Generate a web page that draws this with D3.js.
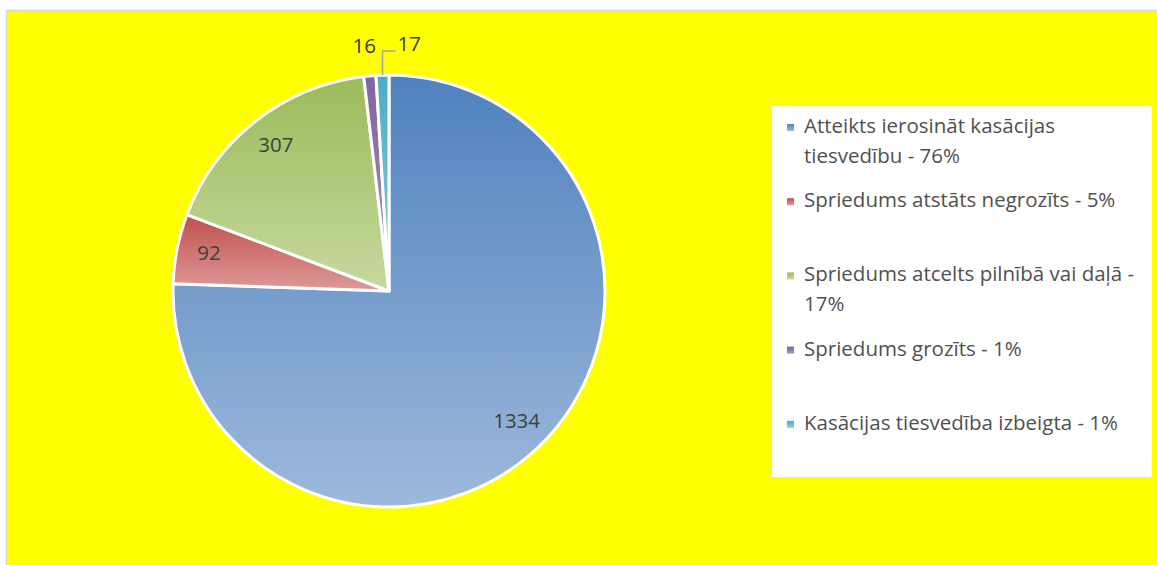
<html>
<head>
<meta charset="utf-8">
<script src="https://cdn.jsdelivr.net/npm/d3@7"></script>
<style>
  body { margin: 0; background: #fff; }
  text { font-family: "Open Sans", Lato, sans-serif; }
</style>
</head>
<body>
<div id="chart"></div>
<script>
// data
const categories = [
  "Atteikts ierosināt kasācijas tiesvedību",
  "Spriedums atstāts negrozīts",
  "Spriedums atcelts pilnībā vai daļā",
  "Spriedums grozīts",
  "Kasācijas tiesvedība izbeigta"
];
const values = [1334, 92, 307, 16, 17];
const colorsDark = ["#4F81BD", "#C0504D", "#9BBB59", "#8064A2", "#4BACC6"];
const colorsLight = ["#9DB9DC", "#DD9A98", "#C6D99F", "#A993C4", "#8CCDDD"];

const W = 1157, H = 565;
const cx = 389, cy = 291, R = 216;

const svg = d3.select("#chart").append("svg")
  .attr("width", W).attr("height", H);

// chart area
svg.append("rect")
  .attr("x", 6.5).attr("y", 10.5)
  .attr("width", W).attr("height", H)
  .attr("fill", "#FFFF00")
  .attr("stroke", "#D9D9D9").attr("stroke-width", 1.5);

// gradients per slice
const defs = svg.append("defs");
colorsDark.forEach((c, i) => {
  const g = defs.append("linearGradient")
    .attr("id", "grad" + i)
    .attr("x1", 0).attr("y1", 0).attr("x2", 0).attr("y2", 1);
  g.append("stop").attr("offset", "0%").attr("stop-color", c);
  g.append("stop").attr("offset", "100%").attr("stop-color", colorsLight[i]);
});

const total = d3.sum(values);
const pie = d3.pie().sort(null).value(d => d);
const arcs = pie(values);
const arc = d3.arc().innerRadius(0).outerRadius(R);

const pieG = svg.append("g").attr("transform", `translate(${cx},${cy})`);

pieG.selectAll("path.slice")
  .data(arcs)
  .enter()
  .append("path")
  .attr("class", "slice")
  .attr("d", arc)
  .attr("fill", (d, i) => `url(#grad${i})`)
  .attr("stroke", "#fff")
  .attr("stroke-width", 3)
  .attr("stroke-linejoin", "round");

// data labels
const inside = d3.arc().innerRadius(R * 0.85).outerRadius(R * 0.85);
const outside = d3.arc().innerRadius(R + 28).outerRadius(R + 28);
const labelSize = 20.5;

arcs.forEach((d, i) => {
  const small = d.value / total < 0.03;
  let pos;
  if (!small) {
    pos = inside.centroid(d);
  } else if (i === 3) {
    pos = outside.centroid(d);
  } else {
    // leader line label
    const mid = (d.startAngle + d.endAngle) / 2;
    const x0 = R * Math.sin(mid), y0 = -R * Math.cos(mid);
    const yTop = y0 - 24;
    pieG.append("polyline")
      .attr("points", `${x0},${y0} ${x0},${yTop} ${x0 + 13},${yTop}`)
      .attr("fill", "none").attr("stroke", "#A6A6A6").attr("stroke-width", 1.5);
    pieG.append("text")
      .attr("x", x0 + 15).attr("y", yTop - 6)
      .attr("dominant-baseline", "middle")
      .attr("font-size", labelSize).attr("fill", "#404040")
      .text(d.value);
    return;
  }
  pieG.append("text")
    .attr("x", pos[0] - (i === 3 ? 3 : 0)).attr("y", pos[1])
    .attr("text-anchor", "middle")
    .attr("dominant-baseline", "middle")
    .attr("font-size", labelSize).attr("fill", "#404040")
    .text(d.value);
});

// legend
const lx = 772, ly = 106, lw = 380, lh = 371;
svg.append("rect")
  .attr("x", lx).attr("y", ly).attr("width", lw).attr("height", lh)
  .attr("fill", "#fff");

const slot = d3.scaleBand().domain(d3.range(values.length)).range([ly, ly + lh]);
const maxW = 345;

categories.forEach((name, i) => {
  const pct = Math.round(values[i] / total * 100);
  const label = `${name} - ${pct}%`;
  const y0 = slot(i) + 22;
  svg.append("rect")
    .attr("x", 787).attr("y", y0 - 4).attr("width", 7).attr("height", 7)
    .attr("fill", `url(#grad${i})`);
  const t = svg.append("text")
    .attr("x", 804).attr("y", y0)
    .attr("dominant-baseline", "middle")
    .attr("font-size", 20.5).attr("fill", "#505050");
  // wrap words
  const words = label.split(" ");
  let line = [];
  let ts = t.append("tspan").attr("x", 804).attr("dy", 0);
  words.forEach(w => {
    line.push(w);
    ts.text(line.join(" "));
    if (ts.node().getComputedTextLength() > maxW && line.length > 1) {
      line.pop();
      ts.text(line.join(" "));
      line = [w];
      ts = t.append("tspan").attr("x", 804).attr("dy", 29.5).text(w);
    }
  });
});
</script>
</body>
</html>
